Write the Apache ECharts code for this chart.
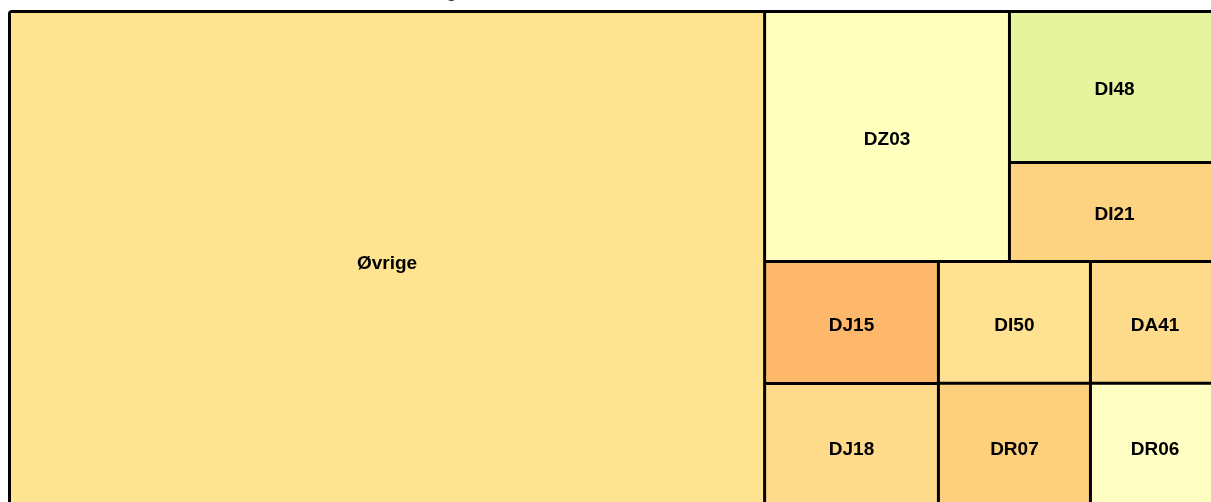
<!DOCTYPE html>
<html>
<head>
<meta charset="utf-8">
<script src="https://cdn.jsdelivr.net/npm/echarts@6/dist/echarts.min.js"></script>
<style>
  html, body { margin: 0; padding: 0; background: #fff; overflow: hidden; }
  #treemap { width: 1211px; height: 502px; }
</style>
</head>
<body>
<div id="treemap"></div>
<script>
const names  = ['Øvrige', 'DZ03', 'DI48', 'DI21', 'DJ15', 'DJ18', 'DI50', 'DR07', 'DA41', 'DR06'];
const values = [3760, 612, 317, 208, 212, 219, 185, 192, 157, 163];
const colors = ['#fee391', '#ffffbe', '#e6f59d', '#fdd280', '#fdb86b', '#feda8b', '#fee191', '#fdd07e', '#fedb8a', '#ffffc4'];

// how the tiles are grouped in the reference layout
const nesting = ['Øvrige', [['DZ03', ['DI48', 'DI21']], [['DJ15', 'DJ18'], ['DI50', 'DR07'], ['DA41', 'DR06']]]];

function build(item) {
    if (typeof item === 'string') {
        const i = names.indexOf(item);
        return { name: item, value: values[i], itemStyle: { color: colors[i] } };
    }
    return { name: '', children: item.map(build) };
}

function drawTreemap(id) {
    var chart = echarts.init(document.getElementById(id));
    var groupLevel = { itemStyle: { borderWidth: 0, gapWidth: 3, borderColor: '#000' } };
    var option = {
        animation: false,
        title: {
            text: 'Diagnoser',
            left: 413,
            top: -22,
            textStyle: { fontSize: 18, fontWeight: 'bold', color: '#333', fontFamily: 'Liberation Sans, Arial, sans-serif' }
        },
        series: [
            {
                type: 'treemap',
                left: 8,
                top: 10,
                width: 1213,
                height: 501,
                roam: false,
                nodeClick: false,
                silent: true,
                sort: false,
                squareRatio: 1,
                breadcrumb: { show: false },
                label: {
                    show: true,
                    position: 'inside',
                    offset: [0, 3],
                    fontSize: 19,
                    fontWeight: 'bold',
                    color: '#000',
                    fontFamily: 'Liberation Sans, Arial, sans-serif'
                },
                upperLabel: { show: false },
                itemStyle: { borderColor: '#000' },
                levels: [
                    { itemStyle: { borderWidth: 3, gapWidth: 3, borderColor: '#000', borderRadius: 4 } },
                    groupLevel, groupLevel, groupLevel, groupLevel, groupLevel
                ],
                data: nesting.map(build)
            }
        ]
    };
    chart.setOption(option);
}

drawTreemap('treemap');
</script>
</body>
</html>
